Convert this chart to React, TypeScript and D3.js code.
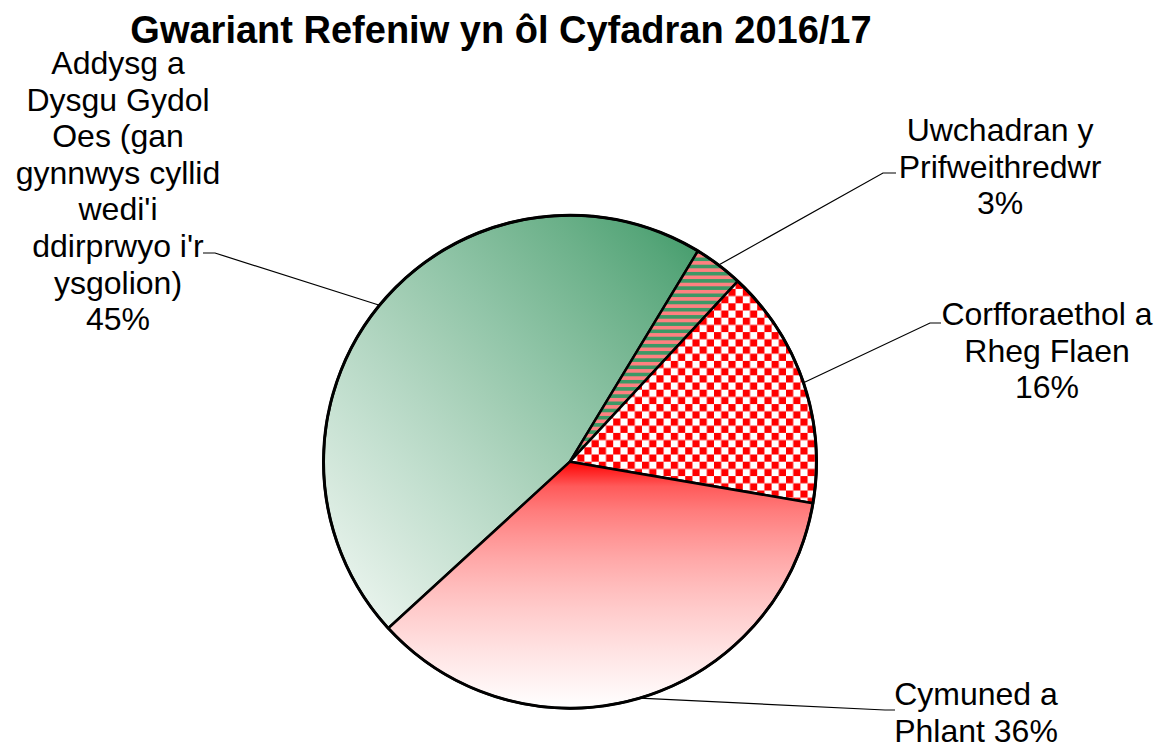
import React from "react";
import * as d3 from "d3";

// ---- data ----
const categories = [
  "Addysg a Dysgu Gydol Oes (gan gynnwys cyllid wedi'i ddirprwyo i'r ysgolion)",
  "Uwchadran y Prifweithredwr",
  "Corfforaethol a Rheg Flaen",
  "Cymuned a Phlant",
];
const values = [45.49, 3.24, 15.77, 35.5];
const labelLines = [
  ["Addysg a", "Dysgu Gydol", "Oes (gan", "gynnwys cyllid", "wedi'i", "ddirprwyo i'r", "ysgolion)"],
  ["Uwchadran y", "Prifweithredwr"],
  ["Corfforaethol a", "Rheg Flaen"],
  ["Cymuned a", "Phlant"],
];
const percentInline = [false, false, false, true];
const title = "Gwariant Refeniw yn ôl Cyfadran 2016/17";

// ---- layout ----
const W = 1157;
const H = 749;
const cx = 570;
const cy = 461.7;
const R = 246.5;
const firstSliceAngleDeg = -132.5;
const FONT = "'Liberation Sans', Arial, Helvetica, sans-serif";
const labelLayout = [
  { x: 118, y: 74, lh: 36.6, elbow: [215, 253], end: [203, 253] },
  { x: 1000, y: 141, lh: 36.6, elbow: [883, 173], end: [896, 173] },
  { x: 1047, y: 325, lh: 36.6, elbow: [930, 323], end: [941, 323] },
  { x: 976, y: 705, lh: 36.6, elbow: [885, 710], end: [895, 710] },
];

const GREEN = "#3d9866";
const SALMON = "#ff8080";
const PAT_SCALE = 1.8;

export default function App() {
  const total = d3.sum(values);
  const start = (firstSliceAngleDeg * Math.PI) / 180;
  const pie = d3
    .pie<number>()
    .sort(null)
    .value((d) => d)
    .startAngle(start)
    .endAngle(start + 2 * Math.PI);
  const arcs = pie(values);
  const arcGen = d3.arc<d3.PieArcDatum<number>>().innerRadius(0).outerRadius(R);

  const fills = ["url(#gAdd)", "url(#pStripe)", "url(#pCheck)", "url(#gCym)"];

  const greenStops = d3.range(0, 1.0001, 0.1).map((t) => ({
    off: t,
    col: d3.interpolateRgb(GREEN, "#f4f9f5")(Math.pow(t, 0.85)),
  }));
  const redStops = d3.range(0, 1.0001, 0.1).map((t) => ({
    off: t,
    col: d3.interpolateRgb("#ff0000", "#ffffff")(Math.pow(t, 0.45)),
  }));

  return (
    <svg
      width={W}
      height={H}
      style={{ position: "absolute", left: 0, top: 0, background: "#fff" }}
      fontFamily={FONT}
    >
      <defs>
        <linearGradient id="gAdd" x1="1" y1="0" x2="0" y2="1">
          {greenStops.map((s, i) => (
            <stop key={i} offset={s.off} stopColor={s.col} />
          ))}
        </linearGradient>
        <linearGradient id="gCym" x1="0" y1="0" x2="0" y2="1">
          {redStops.map((s, i) => (
            <stop key={i} offset={s.off} stopColor={s.col} />
          ))}
        </linearGradient>
        <pattern
          id="pStripe"
          patternUnits="userSpaceOnUse"
          width={4}
          height={4}
          patternTransform={`translate(0,1) scale(${PAT_SCALE})`}
        >
          <rect x={0} y={0} width={4} height={4} fill={GREEN} />
          <rect x={0} y={0} width={4} height={2} fill={SALMON} />
        </pattern>
        <pattern
          id="pCheck"
          patternUnits="userSpaceOnUse"
          width={8}
          height={8}
          patternTransform={`scale(${PAT_SCALE})`}
        >
          <rect x={0} y={0} width={8} height={8} fill="#ffffff" />
          <rect x={0} y={0} width={4} height={4} fill="#ff0000" />
          <rect x={4} y={4} width={4} height={4} fill="#ff0000" />
        </pattern>
      </defs>

      <text x={501} y={43} textAnchor="middle" fontSize={38} fontWeight="bold" fill="#000">
        {title}
      </text>

      <g transform={`translate(${cx},${cy})`}>
        {arcs.map((a, i) => (
          <path
            key={categories[i]}
            d={arcGen(a) || ""}
            fill={fills[i]}
            stroke="#000"
            strokeWidth={2.5}
            strokeLinejoin="round"
          />
        ))}
        <circle r={R} fill="none" stroke="#000" strokeWidth={3} />
      </g>

      {arcs.map((a, i) => {
        const mid = (a.startAngle + a.endAngle) / 2;
        const sx = cx + R * Math.sin(mid);
        const sy = cy - R * Math.cos(mid);
        const L = labelLayout[i];
        return (
          <polyline
            key={"l" + i}
            points={`${sx},${sy} ${L.elbow[0]},${L.elbow[1]} ${L.end[0]},${L.end[1]}`}
            fill="none"
            stroke="#000"
            strokeWidth={1.2}
          />
        );
      })}

      {arcs.map((a, i) => {
        const pct = Math.round((values[i] / total) * 100) + "%";
        const lines = percentInline[i]
          ? [...labelLines[i].slice(0, -1), labelLines[i][labelLines[i].length - 1] + " " + pct]
          : [...labelLines[i], pct];
        const L = labelLayout[i];
        return (
          <text key={"t" + i} textAnchor="middle" fontSize={32} fill="#000">
            {lines.map((ln, j) => (
              <tspan key={j} x={L.x} y={L.y + j * L.lh}>
                {ln}
              </tspan>
            ))}
          </text>
        );
      })}
    </svg>
  );
}
